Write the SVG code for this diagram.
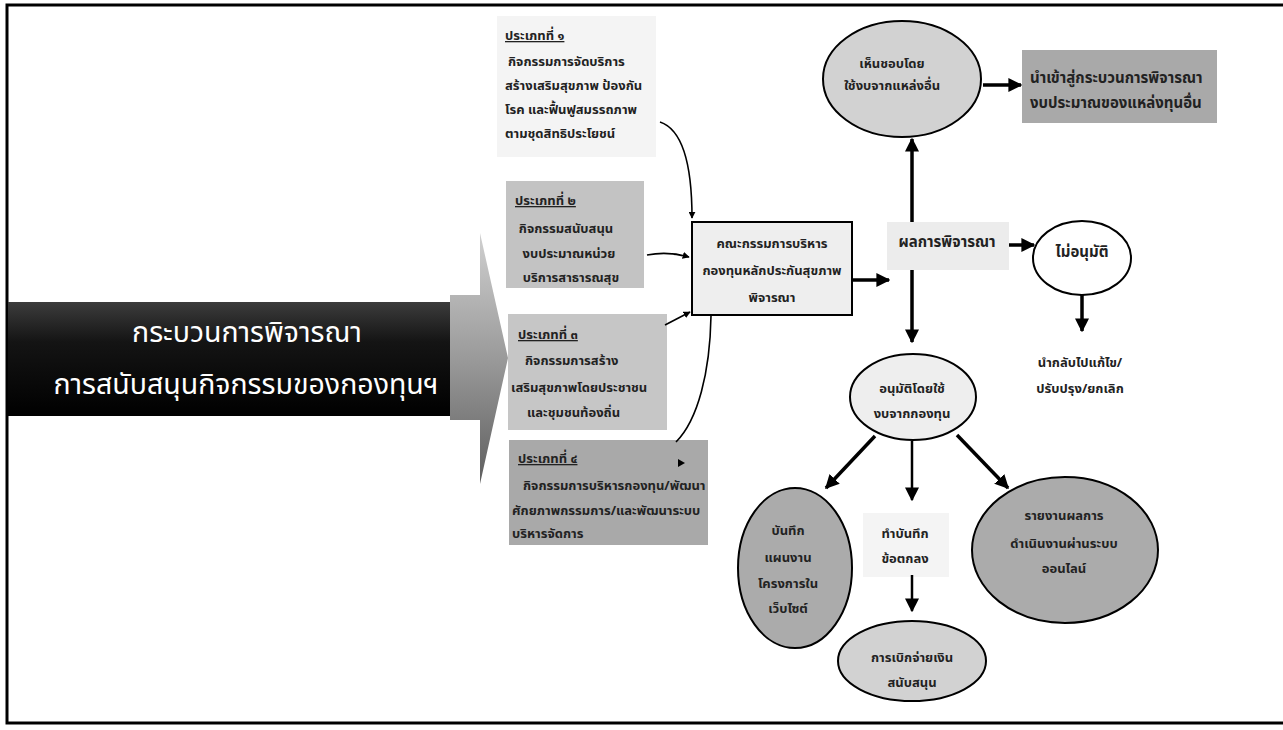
<svg xmlns="http://www.w3.org/2000/svg" width="1283" height="730" viewBox="0 0 1283 730">
  <defs>
    <linearGradient id="barFill" x1="0" y1="0" x2="0" y2="1">
      <stop offset="0" stop-color="#3c3c3c"/>
      <stop offset="0.35" stop-color="#141414"/>
      <stop offset="1" stop-color="#000000"/>
    </linearGradient>
    <linearGradient id="arrowFill" x1="0" y1="0" x2="0" y2="1">
      <stop offset="0" stop-color="#d0d0d0"/>
      <stop offset="0.5" stop-color="#9a9a9a"/>
      <stop offset="1" stop-color="#5e5e5e"/>
    </linearGradient>
    <marker id="headS" viewBox="0 0 10 10" refX="9" refY="5" markerWidth="7" markerHeight="7" markerUnits="userSpaceOnUse" orient="auto">
      <path d="M0,0 L10,5 L0,10 z" fill="#000"/>
    </marker>
    <marker id="headL" viewBox="0 0 10 10" refX="9" refY="5" markerWidth="14" markerHeight="14" markerUnits="userSpaceOnUse" orient="auto">
      <path d="M0,0 L10,5 L0,10 z" fill="#000"/>
    </marker>
    <style>
      .t { font-family: "Noto Sans Thai", "Noto Sans", "DejaVu Sans", sans-serif; font-weight: bold; font-size: 13px; fill: #222; }
      .tc { text-anchor: middle; }
      .hd { text-decoration: underline; }
      .big { font-size: 15px; }
      .title { font-family: "Noto Sans Thai", "Noto Sans", "DejaVu Sans", sans-serif; font-size: 28.5px; fill: #ffffff; text-anchor: middle; }
      .thin { fill: none; stroke: #000; stroke-width: 1.6; marker-end: url(#headS); }
      .thick { fill: none; stroke: #000; stroke-width: 3.5; marker-end: url(#headL); }
      .mid { fill: none; stroke: #000; stroke-width: 2.5; marker-end: url(#headL); }
      .node { stroke: #000; stroke-width: 2; }
    </style>
  </defs>

  <rect width="1283" height="730" fill="#ffffff"/>
  <!-- page frame -->
  <rect x="7" y="5" width="1290" height="718" fill="none" stroke="#000" stroke-width="3"/>

  <!-- title bar with gradient arrow -->
  <g id="title">
    <polygon points="450,295 480,295 480,233 508,358 480,484 480,420 450,420" fill="url(#arrowFill)"/>
    <rect x="8" y="302" width="442" height="114" fill="url(#barFill)"/>
    <text class="title" x="247" y="342">กระบวนการพิจารณา</text>
    <text class="title" x="246" y="394">การสนับสนุนกิจกรรมของกองทุนฯ</text>
  </g>

  <!-- activity type 1 -->
  <g id="type1">
    <rect x="497" y="16" width="159" height="141" fill="#f4f4f4"/>
    <text class="t hd" x="505" y="40">ประเภทที่ ๑</text>
    <text class="t" x="508" y="66">กิจกรรมการจัดบริการ</text>
    <text class="t" x="505" y="90">สร้างเสริมสุขภาพ ป้องกัน</text>
    <text class="t" x="505" y="114">โรค และฟื้นฟูสมรรถภาพ</text>
    <text class="t" x="505" y="138">ตามชุดสิทธิประโยชน์</text>
  </g>

  <!-- activity type 2 -->
  <g id="type2">
    <rect x="506" y="181" width="138" height="107" fill="#c3c3c3"/>
    <text class="t hd" x="515" y="205">ประเภทที่ ๒</text>
    <text class="t tc" x="566" y="233">กิจกรรมสนับสนุน</text>
    <text class="t tc" x="569" y="258">งบประมาณหน่วย</text>
    <text class="t tc" x="571" y="282">บริการสาธารณสุข</text>
  </g>

  <!-- activity type 3 -->
  <g id="type3">
    <rect x="508" y="314" width="159" height="116" fill="#c6c6c6"/>
    <text class="t hd" x="518" y="339">ประเภทที่ ๓</text>
    <text class="t" x="525" y="365">กิจกรรมการสร้าง</text>
    <text class="t" x="511" y="392">เสริมสุขภาพโดยประชาชน</text>
    <text class="t" x="527" y="417">และชุมชนท้องถิ่น</text>
  </g>

  <!-- activity type 4 -->
  <g id="type4">
    <rect x="509" y="440" width="199" height="105" fill="#a9a9a9"/>
    <text class="t hd" x="518" y="463">ประเภทที่ ๔</text>
    <path d="M678,459 L685,463 L678,467 z" fill="#000"/>
    <text class="t" x="523" y="490">กิจกรรมการบริหารกองทุน/พัฒนา</text>
    <text class="t" x="512" y="515">ศักยภาพกรรมการ/และพัฒนาระบบ</text>
    <text class="t" x="512" y="538">บริหารจัดการ</text>
  </g>

  <!-- fund committee -->
  <g id="committee">
    <rect class="node" x="692" y="222" width="160" height="93" fill="#eeeeee"/>
    <text class="t tc" x="772" y="248">คณะกรรมการบริหาร</text>
    <text class="t tc" x="772" y="275">กองทุนหลักประกันสุขภาพ</text>
    <text class="t tc" x="772" y="302">พิจารณา</text>
  </g>

  <!-- decision -->
  <g id="result">
    <rect x="887" y="222" width="122" height="48" fill="#ececec"/>
    <text class="t tc big" x="947" y="247">ผลการพิจารณา</text>
  </g>

  <!-- approved with other funding -->
  <g id="otherFund">
    <ellipse class="node" cx="902" cy="79" rx="79" ry="58" fill="#d2d2d2"/>
    <text class="t tc" x="892" y="68">เห็นชอบโดย</text>
    <text class="t tc" x="892" y="90">ใช้งบจากแหล่งอื่น</text>
  </g>

  <g id="otherProcess">
    <rect x="1022" y="50" width="195" height="73" fill="#a9a9a9"/>
    <text class="t big" x="1030" y="83">นำเข้าสู่กระบวนการพิจารณา</text>
    <text class="t big" x="1030" y="108">งบประมาณของแหล่งทุนอื่น</text>
  </g>

  <!-- not approved -->
  <g id="rejected">
    <ellipse class="node" cx="1082" cy="258" rx="49" ry="37" fill="#ffffff"/>
    <text class="t tc big" x="1082" y="257">ไม่อนุมัติ</text>
  </g>

  <g id="revise">
    <text class="t tc" x="1080" y="367">นำกลับไปแก้ไข/</text>
    <text class="t tc" x="1080" y="393">ปรับปรุง/ยกเลิก</text>
  </g>

  <!-- approved with fund budget -->
  <g id="approved">
    <ellipse class="node" cx="913" cy="397" rx="63" ry="43" fill="#eeeeee"/>
    <text class="t tc" x="912" y="393">อนุมัติโดยใช้</text>
    <text class="t tc" x="912" y="418">งบจากกองทุน</text>
  </g>

  <g id="website">
    <ellipse class="node" cx="795" cy="568" rx="57" ry="80" fill="#ababab"/>
    <text class="t tc" x="788" y="535">บันทึก</text>
    <text class="t tc" x="788" y="562">แผนงาน</text>
    <text class="t tc" x="788" y="588">โครงการใน</text>
    <text class="t tc" x="788" y="613">เว็บไซต์</text>
  </g>

  <g id="agreement">
    <rect x="863" y="513" width="86" height="64" fill="#f4f4f4"/>
    <text class="t tc" x="905" y="538">ทำบันทึก</text>
    <text class="t tc" x="905" y="563">ข้อตกลง</text>
  </g>

  <g id="disburse">
    <ellipse class="node" cx="912" cy="661" rx="74" ry="40" fill="#d2d2d2"/>
    <text class="t tc" x="912" y="662">การเบิกจ่ายเงิน</text>
    <text class="t tc" x="912" y="687">สนับสนุน</text>
  </g>

  <g id="report">
    <ellipse class="node" cx="1065" cy="550" rx="93" ry="73" fill="#ababab"/>
    <text class="t tc" x="1064" y="520">รายงานผลการ</text>
    <text class="t tc" x="1064" y="548">ดำเนินงานผ่านระบบ</text>
    <text class="t tc" x="1064" y="573">ออนไลน์</text>
  </g>

  <!-- connectors -->
  <g id="connectors">
    <path class="thin" d="M660,122 C684,130 692,170 692,218"/>
    <path class="thin" d="M647,255 Q668,251 689,257"/>
    <path class="thin" d="M665,325 L690,312"/>
    <path fill="none" stroke="#000" stroke-width="1.6" d="M676,442 C698,420 710,372 711,316"/>
    <path class="thick" d="M852,280 L889,280"/>
    <path class="thick" d="M912,222 L912,139"/>
    <path class="thick" d="M912,270 L912,342"/>
    <path class="thick" d="M983,85 L1021,85"/>
    <path class="thick" d="M1009,245 L1034,245"/>
    <path class="thick" d="M1082,295 L1082,331"/>
    <path class="thick" d="M875,436 L826,488"/>
    <path class="mid" d="M912,441 L912,500"/>
    <path class="thick" d="M957,435 L1008,488"/>
    <path class="mid" d="M912,575 L912,611"/>
  </g>
</svg>
